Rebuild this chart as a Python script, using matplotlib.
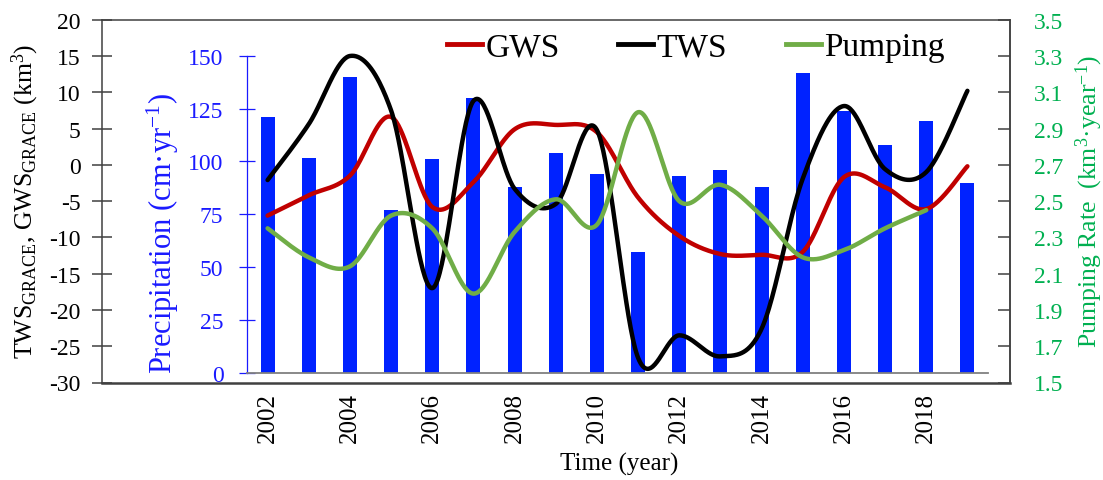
import numpy as np
import matplotlib
matplotlib.use('Agg')
import matplotlib.pyplot as plt
from matplotlib.lines import Line2D

# ---------------- data ----------------
years = list(range(2002, 2020))
precip = [121, 101.5, 140, 77, 101, 130, 88, 104, 94, 57, 93, 96, 88, 142, 124, 108, 119, 90]
tws = [-2.1, 5.6, 15.0, 7.5, -17.0, 8.8, -3.3, -5.4, 4.8, -26.6, -23.5, -26.4, -22.6, -1.9, 8.1, -0.6, -1.0, 10.2]
gws = [-7.0, -4.2, -1.5, 6.6, -5.8, -2.4, 4.9, 5.5, 4.5, -4.5, -9.8, -12.3, -12.4, -12.0, -1.7, -3.1, -6.1, -0.2]
pump_years = list(range(2002, 2019))
pumping = [2.35, 2.19, 2.14, 2.42, 2.35, 1.99, 2.33, 2.51, 2.37, 2.99, 2.50, 2.59, 2.42, 2.19, 2.23, 2.35, 2.45]
xtick_years = list(range(2002, 2019, 2))

# ---------------- style ----------------
plt.rcParams['font.family'] = ['Liberation Serif', 'DejaVu Serif']
plt.rcParams['mathtext.fontset'] = 'custom'
plt.rcParams['mathtext.rm'] = 'Liberation Serif'
plt.rcParams['mathtext.it'] = 'Liberation Serif:italic'
plt.rcParams['mathtext.bf'] = 'Liberation Serif:bold'
plt.rcParams['axes.unicode_minus'] = False

BLUE = '#0022FF'
BLUE_TXT = '#1A1AFF'
RED = '#C00000'
BLACK = '#000000'
GREEN_LINE = '#70AD47'
GREEN_TXT = '#00B050'
SPINE = '#404040'

W, H = 1103, 481


def rect(x0, x1, ytop, ybot):
    return [x0 / W, 1 - ybot / H, (x1 - x0) / W, (ybot - ytop) / H]


def smooth(xs, ys, n=40):
    """Excel-like smoothed line (Catmull-Rom Bezier through the points)."""
    P = np.column_stack([np.asarray(xs, float), np.asarray(ys, float)])
    Pe = np.vstack([P[0], P, P[-1]])
    t = np.linspace(0, 1, n)[:, None]
    out = []
    for i in range(len(P) - 1):
        p0, p3 = Pe[i + 1], Pe[i + 2]
        c1 = p0 + (Pe[i + 2] - Pe[i]) / 6.0
        c2 = p3 - (Pe[i + 3] - Pe[i + 1]) / 6.0
        seg = ((1 - t) ** 3) * p0 + 3 * ((1 - t) ** 2) * t * c1 + 3 * (1 - t) * t ** 2 * c2 + t ** 3 * p3
        out.append(seg if i == 0 else seg[1:])
    out = np.vstack(out)
    return out[:, 0], out[:, 1]


fig = plt.figure(figsize=(W / 100, H / 100), dpi=100)
fig.patch.set_facecolor('white')

# ---------------- precipitation (bars) ----------------
px0, px1 = 247, 988
ax_p = fig.add_axes(rect(px0, px1, 56.7, 374))
idx = np.arange(len(years))
ax_p.bar(idx, precip, width=0.34, color=BLUE, zorder=2)
ax_p.set_xlim(-0.5, len(years) - 0.5)
ax_p.set_ylim(0, 150)
ax_p.set_yticks(np.arange(0, 151, 25))
ax_p.set_xticks([])
for s in ['top', 'right']:
    ax_p.spines[s].set_visible(False)
ax_p.spines['left'].set_color(BLUE_TXT)
ax_p.spines['left'].set_linewidth(0.9)
ax_p.spines['bottom'].set_color('#808080')
ax_p.spines['bottom'].set_linewidth(1.3)
ax_p.tick_params(axis='y', direction='inout', length=12, width=0.9, color=BLUE_TXT,
                 labelcolor=BLUE_TXT, labelsize=17, pad=11)

# ---------------- main axes (TWS / GWS) ----------------
u = (px1 - px0) / len(years)
xl = -0.5 - (px0 - 102) / u
xr = len(years) - 0.5 + (1010 - px1) / u
ax_m = fig.add_axes(rect(102, 1010, 20.7, 383.5))
ax_m.patch.set_alpha(0)
ax_m.set_xlim(xl, xr)
ax_m.set_ylim(-30, 20)
ax_m.set_yticks(np.arange(-30, 21, 5))
for s in ax_m.spines.values():
    s.set_color(SPINE)
    s.set_linewidth(1.1)
ax_m.spines['bottom'].set_linewidth(1.8)
ax_m.tick_params(axis='y', direction='inout', length=15, width=1.1, color=SPINE,
                 labelsize=17, pad=8)
ax_m.set_xticks([years.index(y) for y in xtick_years])
ax_m.set_xticklabels([str(y) for y in xtick_years], rotation=90)
ax_m.tick_params(axis='x', length=0, labelsize=18, pad=7)

gx, gy = smooth(idx, gws)
tx, ty = smooth(idx, tws)
ax_m.plot(gx, gy, color=RED, lw=3.2, solid_capstyle='round', zorder=3)
ax_m.plot(tx, ty, color=BLACK, lw=3.2, solid_capstyle='round', zorder=4)

# ---------------- pumping (right axis) ----------------
ax_r = ax_m.twinx()
ax_r.set_ylim(1.5, 3.5)
ax_r.set_yticks(np.round(np.arange(1.5, 3.51, 0.2), 1))
ax_r.set_yticklabels([f'{v:.1f}' for v in np.arange(1.5, 3.51, 0.2)])
for s in ['left', 'top', 'bottom']:
    ax_r.spines[s].set_visible(False)
ax_r.spines['right'].set_color(SPINE)
ax_r.spines['right'].set_linewidth(1.1)
ax_r.tick_params(axis='y', direction='in', length=9, width=1.1, color=SPINE,
                 labelcolor=GREEN_TXT, labelsize=17, pad=17)
pidx = np.array([years.index(y) for y in pump_years])
qx, qy = smooth(pidx, pumping)
ax_r.plot(qx, qy, color=GREEN_LINE, lw=3.2, solid_capstyle='round', zorder=5)

# ---------------- labels ----------------
fig.text(25 / W, 1 - 201 / H, 'TWS$_{\\mathrm{GRACE}}$, GWS$_{\\mathrm{GRACE}}$ (km$^{3}$)',
         rotation=90, ha='center', va='center', fontsize=18.5)
fig.text(163 / W, 1 - 234 / H, 'Precipitation (cm·yr$^{-1}$)', rotation=90,
         ha='center', va='center', fontsize=22, color=BLUE_TXT)
fig.text(1089 / W, 1 - 201 / H, 'Pumping Rate  (km$^{3}$·year$^{-1}$)', rotation=90,
         ha='center', va='center', fontsize=18.5, color=GREEN_TXT)
fig.text(619 / W, 1 - 464 / H, 'Time (year)', ha='center', va='center', fontsize=18)

handles = [Line2D([], [], color=RED, lw=3.5),
           Line2D([], [], color=BLACK, lw=3.5),
           Line2D([], [], color=GREEN_LINE, lw=3.5)]
ax_r.legend(handles, ['GWS', 'TWS', 'Pumping'], ncol=3, frameon=False, fontsize=24,
            handlelength=1.05, handletextpad=0.1, columnspacing=1.75,
            loc='center', bbox_to_anchor=(696 / W, 1 - 48 / H),
            bbox_transform=fig.transFigure, borderaxespad=0, borderpad=0)

fig.savefig('out.png', dpi=100)
